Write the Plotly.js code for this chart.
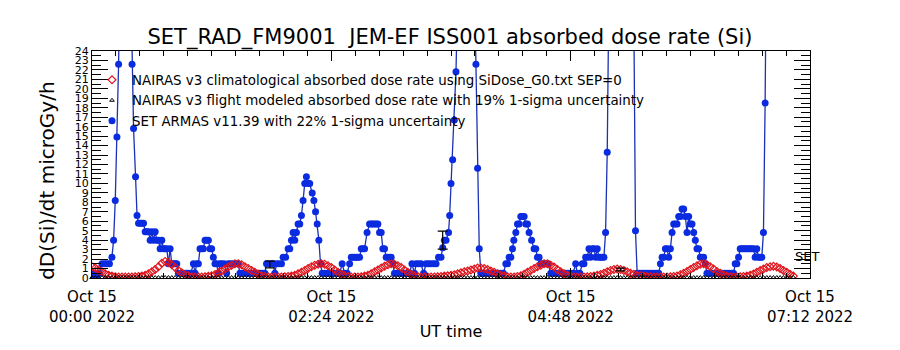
<!DOCTYPE html>
<html>
<head>
<meta charset="utf-8">
<script src="https://cdn.plot.ly/plotly-3.0.1.min.js"></script>
<style>html,body{margin:0;padding:0;background:#fff;}#chart{width:900px;height:350px;}</style>
</head>
<body>
<div id="chart"></div>
<script>
// ---- Data (time in minutes after 2022-10-15 00:00 UT) ----
var tickVals = [0, 144, 288, 432];
var tickLabels = ['Oct 15<br>00:00 2022', 'Oct 15<br>02:24 2022', 'Oct 15<br>04:48 2022', 'Oct 15<br>07:12 2022'];

// NAIRAS model time grid (minutes)
var nairasTime = [
0,2,4,6,8,10,12,14,16,18,
20,22,24,26,28,30,32,34,36,38,
40,42,44,46,48,50,52,54,56,58,
60,62,64,66,68,70,72,74,76,78,
80,82,84,86,88,90,92,94,96,98,
100,102,104,106,108,110,112,114,116,118,
120,122,124,126,128,130,132,134,136,138,
140,142,144,146,148,150,152,154,156,158,
160,162,164,166,168,170,172,174,176,178,
180,182,184,186,188,190,192,194,196,198,
200,202,204,206,208,210,212,214,216,218,
220,222,224,226,228,230,232,234,236,238,
240,242,244,246,248,250,252,254,256,258,
260,262,264,266,268,270,272,274,276,278,
280,282,284,286,288,290,292,294,296,298,
300,302,304,306,308,310,312,314,316,318,
320,322,324,326,328,330,332,334,336,338,
340,342,344,346,348,350,352,354,356,358,
360,362,364,366,368,370,372,374,376,378,
380,382,384,386,388,390,392,394,396,398,
400,402,404,406,408,410,412,414,416,418,
420,422];

// NAIRAS v3 climatological absorbed dose rate
var nairasClim = [
1.2,1.05,0.85,0.65,0.45,0.3,0.2,0.12,0.1,0.1,
0.1,0.1,0.1,0.12,0.15,0.2,0.3,0.45,0.65,0.9,
1.2,1.55,1.75,1.65,1.4,1.1,0.8,0.55,0.35,0.2,
0.12,0.1,0.1,0.1,0.12,0.18,0.25,0.38,0.55,0.75,
0.95,1.15,1.35,1.5,1.5,1.4,1.2,1.0,0.8,0.6,
0.4,0.25,0.15,0.1,0.1,0.1,0.1,0.1,0.12,0.15,
0.2,0.3,0.45,0.6,0.8,1.0,1.2,1.35,1.45,1.5,
1.45,1.3,1.1,0.85,0.6,0.4,0.25,0.15,0.1,0.1,
0.1,0.12,0.2,0.3,0.45,0.65,0.85,1.05,1.25,1.4,
1.5,1.45,1.3,1.1,0.85,0.6,0.4,0.25,0.15,0.1,
0.1,0.1,0.1,0.1,0.12,0.15,0.2,0.25,0.3,0.35,
0.45,0.55,0.65,0.75,0.85,0.95,1.05,1.05,1.0,0.9,
0.75,0.6,0.45,0.3,0.2,0.12,0.1,0.1,0.15,0.25,
0.4,0.6,0.8,1.0,1.2,1.35,1.5,1.5,1.35,1.15,
0.9,0.65,0.45,0.3,0.18,0.1,0.1,0.1,0.1,0.12,
0.15,0.2,0.28,0.38,0.5,0.65,0.8,0.9,0.95,0.9,
0.8,0.65,0.5,0.4,0.3,0.25,0.2,0.15,0.12,0.1,
0.1,0.1,0.1,0.1,0.12,0.15,0.22,0.35,0.5,0.7,
0.9,1.1,1.3,1.45,1.5,1.4,1.2,0.95,0.7,0.5,
0.32,0.2,0.12,0.1,0.1,0.12,0.15,0.2,0.3,0.42,
0.6,0.8,0.95,1.1,1.2,1.25,1.15,1.0,0.8,0.6,
0.4,0.2];

// NAIRAS v3 flight modeled absorbed dose rate (near zero)
var nairasFlight = [
0.05,0.05,0.05,0.05,0.05,0.05,0.05,0.05,0.05,0.05,
0.05,0.05,0.05,0.05,0.05,0.05,0.05,0.05,0.05,0.05,
0.05,0.05,0.05,0.05,0.05,0.05,0.05,0.05,0.05,0.05,
0.05,0.05,0.05,0.05,0.05,0.05,0.05,0.05,0.05,0.05,
0.05,0.05,0.05,0.05,0.05,0.05,0.05,0.05,0.05,0.05,
0.05,0.05,0.05,0.05,0.05,0.05,0.05,0.05,0.05,0.05,
0.05,0.05,0.05,0.05,0.05,0.05,0.05,0.05,0.05,0.05,
0.05,0.05,0.05,0.05,0.05,0.05,0.05,0.05,0.05,0.05,
0.05,0.05,0.05,0.05,0.05,0.05,0.05,0.05,0.05,0.05,
0.05,0.05,0.05,0.05,0.05,0.05,0.05,0.05,0.05,0.05,
0.05,0.05,0.05,0.05,0.05,0.05,0.05,0.05,0.05,0.05,
0.05,0.05,0.05,0.05,0.05,0.05,0.05,0.05,0.05,0.05,
0.05,0.05,0.05,0.05,0.05,0.05,0.05,0.05,0.05,0.05,
0.05,0.05,0.05,0.05,0.05,0.05,0.05,0.05,0.05,0.05,
0.05,0.05,0.05,0.05,0.05,0.05,0.05,0.05,0.05,0.05,
0.05,0.05,0.05,0.05,0.05,0.05,0.05,0.05,0.05,0.05,
0.05,0.05,0.05,0.05,0.05,0.05,0.05,0.05,0.05,0.05,
0.05,0.05,0.05,0.05,0.05,0.05,0.05,0.05,0.05,0.05,
0.05,0.05,0.05,0.05,0.05,0.05,0.05,0.05,0.05,0.05,
0.05,0.05,0.05,0.05,0.05,0.05,0.05,0.05,0.05,0.05,
0.05,0.05,0.05,0.05,0.05,0.05,0.05,0.05,0.05,0.05,
0.05,0.05];

// Points with plotted 1-sigma error bars
var errTime = [107, 211, 318];
var errValue = [1.43, 4.0, 0.9];
var errSigma = [0.35, 0.95, 0.15];

// SET ARMAS v11.39 measured dose rate
var armasTime = [
0,1.5,3,4.5,6,7.5,9,10.5,12,13,
14,15,16,17,18,20,22,23.5,24.1,25,
26.2,27.1,28,29,30,31,32,33,34,35,
36,37,38,39,40,41,42,43,44,45,
46,47,48,49,50,51,52,53.5,55,56.5,
58,59.5,61,62,63,64,65,66,67,68,
69,70,71,72,73,74,75,76,77,78,
79.5,81,82,83.5,85,86.5,88,89,90.5,92,
93.5,95,96.5,98,99.5,101,102.5,104,105,106.5,
108,109,110,111,112.5,114,115,116.5,118,119,
120,121,122,123,124,125,126,127,128,129,
130,131,132.5,133.5,134.5,135.5,136.5,137.5,138.5,140,
141.5,143,144.5,146,147.5,149,150.5,152,153.5,155,
156,157,158,159,160,161,162,163,164,165.5,
167,168,169,170,171,172,173,174,175,176,
177,178,179,180,181,182,183.5,185,186.5,188,
189.5,191,192.5,194,195,196.5,198,199.5,201,202.5,
204,205.5,207,208.5,210,211,212,213,214.5,215.2,
216,217,218,219,220,222,225,228,230,231,
232,233,234,235.5,237,238.5,240,241.5,243,244.5,
246,247.5,249,250,251,252,253,253.8,255,256,
257,258,259,260,261,262,263,264.5,266,267,
268,269,270,271.5,273,274.5,276,277.5,279,280.5,
282,283.5,285,286.5,288,289.5,291,292,293.5,295,
296,297,298,299,300,301,302,303,304,305,
306,307,308,309,310,311,314,318,322,325,
326,327,328,329.5,331,332.5,334,335.5,337,338.5,
340,341,342,343,344,345,346,347,348,349,
350,351,352,353,354,355,356,357,358,359,
360,361,362,363,364,365,366,367,368,369,
370,371.5,373,374.5,376,377.5,379,380.5,382,383.5,
385,386,387,388,389,390,391,392,393,394,
395,396,397,398,399,400,401,402,403,404,
405,406];
var armasDose = [
0.5,0.3,0.3,0.5,1.5,1.5,1.5,1.5,2.2,4.0,
8.2,14.9,22.6,34,38,44,41,30,22.6,15.8,
10.7,6.6,5.8,5.8,5.8,5.8,4.9,4.9,4.9,4.0,
4.9,4.0,4.9,4.0,4.0,3.1,4.0,3.1,3.1,3.1,
1.5,3.1,1.5,1.5,1.5,1.5,0.5,0.5,0.5,0.5,
0.5,0.5,1.5,0.5,1.5,1.5,3.1,3.1,3.1,4.0,
4.0,4.0,3.1,3.1,2.2,1.5,1.5,0.5,1.5,1.5,
1.5,0.5,1.5,1.5,1.5,1.5,1.5,0.5,0.5,0.5,
0.5,0.5,0.5,0.5,0.5,0.5,0.5,0.5,1.5,1.5,
1.5,1.5,0.5,1.5,1.5,1.5,2.2,2.2,3.1,3.1,
4.0,4.8,4.0,4.8,5.7,5.7,6.6,8.2,10,10.7,
10,10,9.0,8.2,7.0,5.7,4.0,1.5,0.5,0.5,
0.5,0.5,0.5,0.5,0.5,0.5,1.5,0.5,0.5,1.5,
2.2,2.2,2.2,2.2,2.2,2.2,3.1,3.1,3.1,4.8,
5.7,5.7,5.7,5.7,5.7,5.7,4.8,4.8,3.1,3.1,
2.2,2.2,2.2,2.2,1.5,0.5,0.5,0.5,0.5,0.5,
0.5,0.5,1.5,0.5,1.5,1.5,1.5,0.5,1.5,1.5,
1.5,1.5,1.5,2.2,2.2,3.2,4.0,4.0,4.8,6.6,
10,12.5,16.7,21.8,30,40,46,42,32,22.6,
11.6,3.1,0.5,0.5,0.5,0.5,0.5,0.5,0.5,0.5,
0.5,0.5,1.5,1.5,2.2,2.2,3.1,4.0,4.8,5.7,
5.7,6.5,6.5,6.5,5.7,5.7,4.8,4.0,3.1,3.1,
2.2,2.2,1.5,1.5,1.5,1.5,0.5,0.5,0.5,0.5,
0.5,0.5,0.5,0.5,0.5,0.5,1.5,0.5,0.5,1.5,
1.5,2.2,2.2,3.1,2.2,3.1,3.1,2.2,3.1,2.2,
2.2,2.2,2.2,4.8,13.3,30,44,48,42,30,
28,5.0,0.5,0.5,0.5,0.5,0.5,0.5,0.5,0.5,
0.5,0.5,1.5,2.2,2.2,3.1,3.1,2.2,3.1,4.8,
5.7,5.7,5.7,6.5,6.5,7.3,7.3,6.5,4.8,6.5,
5.7,5.7,4.8,4.0,3.1,3.1,2.2,2.2,2.2,1.5,
0.5,0.5,0.5,0.5,0.5,0.5,0.5,0.5,0.5,0.5,
0.5,0.5,1.5,1.5,2.2,3.1,3.1,3.1,3.1,3.1,
3.1,3.1,3.1,3.1,2.2,3.1,2.2,2.2,2.2,4.8,
18.5,40];

var legendNames = [
  'NAIRAS v3 climatological absorbed dose rate using SiDose_G0.txt SEP=0',
  'NAIRAS v3 flight modeled absorbed dose rate with 19% 1-sigma uncertainty',
  'SET ARMAS v11.39 with 22% 1-sigma uncertainty'
];

var BLUE = '#0b2be0', BLUE_LINE = '#1b32b4', RED = '#e0141c';

var traces = [
  { x: armasTime, y: armasDose, mode: 'lines', type: 'scatter',
    line: {color: BLUE_LINE, width: 1.3}, showlegend: false, hoverinfo: 'skip' },
  { x: armasTime, y: armasDose, mode: 'markers', type: 'scatter', name: legendNames[2],
    legendrank: 3, marker: {symbol: 'circle', size: 7, color: BLUE} },
  { x: nairasTime, y: nairasClim, mode: 'markers', type: 'scatter', name: legendNames[0],
    legendrank: 1, marker: {symbol: 'diamond-open', size: 6, color: RED, line: {width: 1.2, color: RED}} },
  { x: nairasTime, y: nairasFlight, mode: 'markers', type: 'scatter', name: legendNames[1],
    legendrank: 2, cliponaxis: false,
    marker: {symbol: 'triangle-up-open', size: 4, color: '#000', line: {width: 1, color: '#000'}} },
  { x: errTime, y: errValue, mode: 'markers', type: 'scatter', showlegend: false,
    marker: {size: 1, color: '#000'},
    error_y: {type: 'data', array: errSigma, visible: true, color: '#000', thickness: 1.2, width: 5} }
];

var axisCommon = {
  showline: true, linecolor: '#000', linewidth: 1, mirror: 'allticks',
  ticks: 'inside', tickcolor: '#000', tickwidth: 1,
  showgrid: false, zeroline: false
};

var layout = {
  width: 900, height: 350,
  margin: {l: 92, r: 90, t: 51, b: 72},
  paper_bgcolor: '#fff', plot_bgcolor: '#fff',
  font: {family: 'DejaVu Sans', color: '#000'},
  title: {text: 'SET_RAD_FM9001 \u00a0JEM-EF ISS001 absorbed dose rate (Si)',
          font: {size: 21, color: '#000'}, x: 0.5, xanchor: 'center',
          yref: 'container', y: 1 - 37/350, yanchor: 'middle'},
  xaxis: Object.assign({}, axisCommon, {
    range: [0, 432], tickmode: 'array', tickvals: tickVals, ticktext: tickLabels,
    ticklen: 10, tickfont: {size: 15}, ticklabelstandoff: 5,
    minor: {ticks: 'inside', ticklen: 5, tick0: 0, dtick: 14.4, tickcolor: '#000', showgrid: false},
    title: {text: 'UT time', font: {size: 16}, standoff: 1}
  }),
  yaxis: Object.assign({}, axisCommon, {
    range: [0, 24], tickmode: 'linear', tick0: 0, dtick: 1,
    ticklen: 16, tickfont: {size: 11},
    minor: {ticks: 'inside', ticklen: 9, tick0: 0, dtick: 0.5, tickcolor: '#000', showgrid: false}
  }),
  legend: {x: 0.0, xanchor: 'left', y: 0.94, yanchor: 'top',
           bgcolor: 'rgba(0,0,0,0)', borderwidth: 0, font: {size: 13.4}, tracegroupgap: 0},
  annotations: [
    {x: 430, y: 2.3, xref: 'x', yref: 'y', text: 'SET', showarrow: false,
     font: {size: 13, color: '#000'}},
    {x: -0.063, y: 0.427, xref: 'paper', yref: 'paper', text: 'dD(Si)/dt microGy/h',
     textangle: -90, showarrow: false, xanchor: 'center', yanchor: 'middle',
     font: {size: 20, color: '#000'}}
  ],
  showlegend: true
};

Plotly.newPlot('chart', traces, layout, {displayModeBar: false, staticPlot: true});
</script>
</body>
</html>
